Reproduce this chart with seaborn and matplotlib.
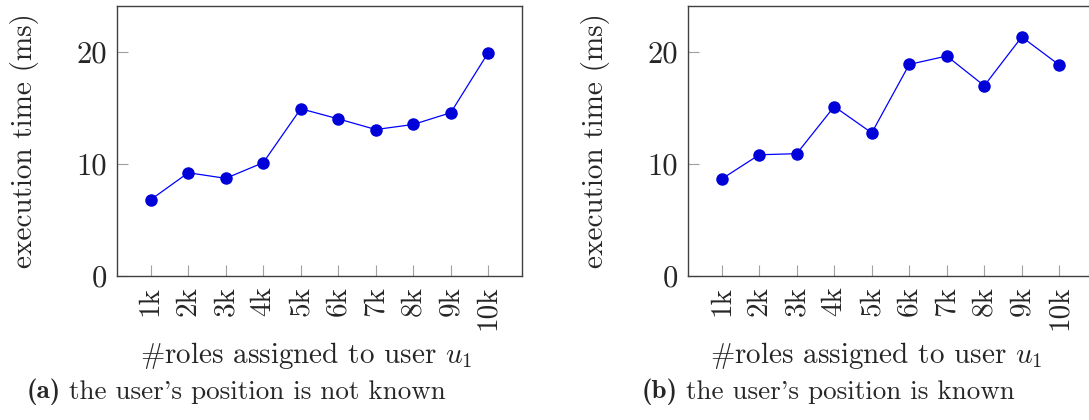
import matplotlib
matplotlib.use("Agg")
import matplotlib.pyplot as plt
import seaborn as sns
import pandas as pd

# ---- data ----
roles_k = [1, 2, 3, 4, 5, 6, 7, 8, 9, 10]
tick_labels = ["1k", "2k", "3k", "4k", "5k", "6k", "7k", "8k", "9k", "10k"]
time_unknown = [6.8, 9.2, 8.7, 10.1, 14.9, 14.0, 13.05, 13.5, 14.55, 19.9]
time_known = [8.65, 10.8, 10.9, 15.1, 12.75, 18.85, 19.6, 16.95, 21.3, 18.8]
cap_tags = ["(a)", "(b)"]
cap_texts = ["the user's position is not known",
             "the user's position is known"]
ylabel = "execution time (ms)"
xlabel = r"#roles assigned to user $u_1$"

sns.set_style("white")
plt.rcParams["font.family"] = ["cmr10", "DejaVu Serif"]
plt.rcParams["mathtext.fontset"] = "cm"
plt.rcParams["axes.unicode_minus"] = False
plt.rcParams["axes.formatter.use_mathtext"] = True

fig = plt.figure(figsize=(10.89, 4.2), dpi=100)
W, H = 1089, 420
positions = [(117, 522), (688, 1093)]
top_px, bot_px = 5.5, 276
series = [time_unknown, time_known]
cap_left = [27, 642]
xlab_center = [306, 876]

line_color = "#0000FF"
mark_color = "#0000D9"

renderer = fig.canvas.get_renderer()

for (x0, x1), vals, tag, txt, cl, xc in zip(positions, series, cap_tags, cap_texts,
                                           cap_left, xlab_center):
    ax = fig.add_axes([x0 / W, (H - bot_px) / H, (x1 - x0) / W, (bot_px - top_px) / H])
    df = pd.DataFrame({"k": roles_k, "t": vals})
    sns.lineplot(data=df, x="k", y="t", ax=ax, color=line_color, lw=0.9,
                 marker="o", markersize=9, markerfacecolor=mark_color,
                 markeredgecolor=mark_color, markeredgewidth=0)
    ax.set_xlim(0.1, 10.9)
    ax.set_ylim(0, 24.1)
    ax.set_xticks(roles_k)
    ax.set_xticklabels(tick_labels, rotation=90, fontsize=21)
    ax.set_yticks([0, 10, 20])
    ax.set_yticklabels(["0", "10", "20"], fontsize=22)
    ax.tick_params(axis="both", direction="in", length=8, width=0.8,
                   color="#a0a0a0", bottom=True, left=True, top=False, right=False,
                   pad=7)
    for s in ax.spines.values():
        s.set_color("#404040")
        s.set_linewidth(1.0)
    ax.set_ylabel(ylabel, fontsize=21, labelpad=27)
    ax.set_xlabel(xlabel, fontsize=21, labelpad=4)
    ax.xaxis.set_label_coords((xc - x0) / (x1 - x0), -0.237)
    ax.xaxis.label.set_va("top")

    t1 = fig.text(cl / W, 1 - 392 / H, tag, ha="left", va="center",
                  fontsize=19.5, family="cmb10")
    bb = t1.get_window_extent(renderer=renderer)
    fig.text((bb.x1 + 8) / W, 1 - 392 / H, txt, ha="left", va="center",
             fontsize=19.5, family="cmr10")

fig.savefig("out.png", dpi=100)
